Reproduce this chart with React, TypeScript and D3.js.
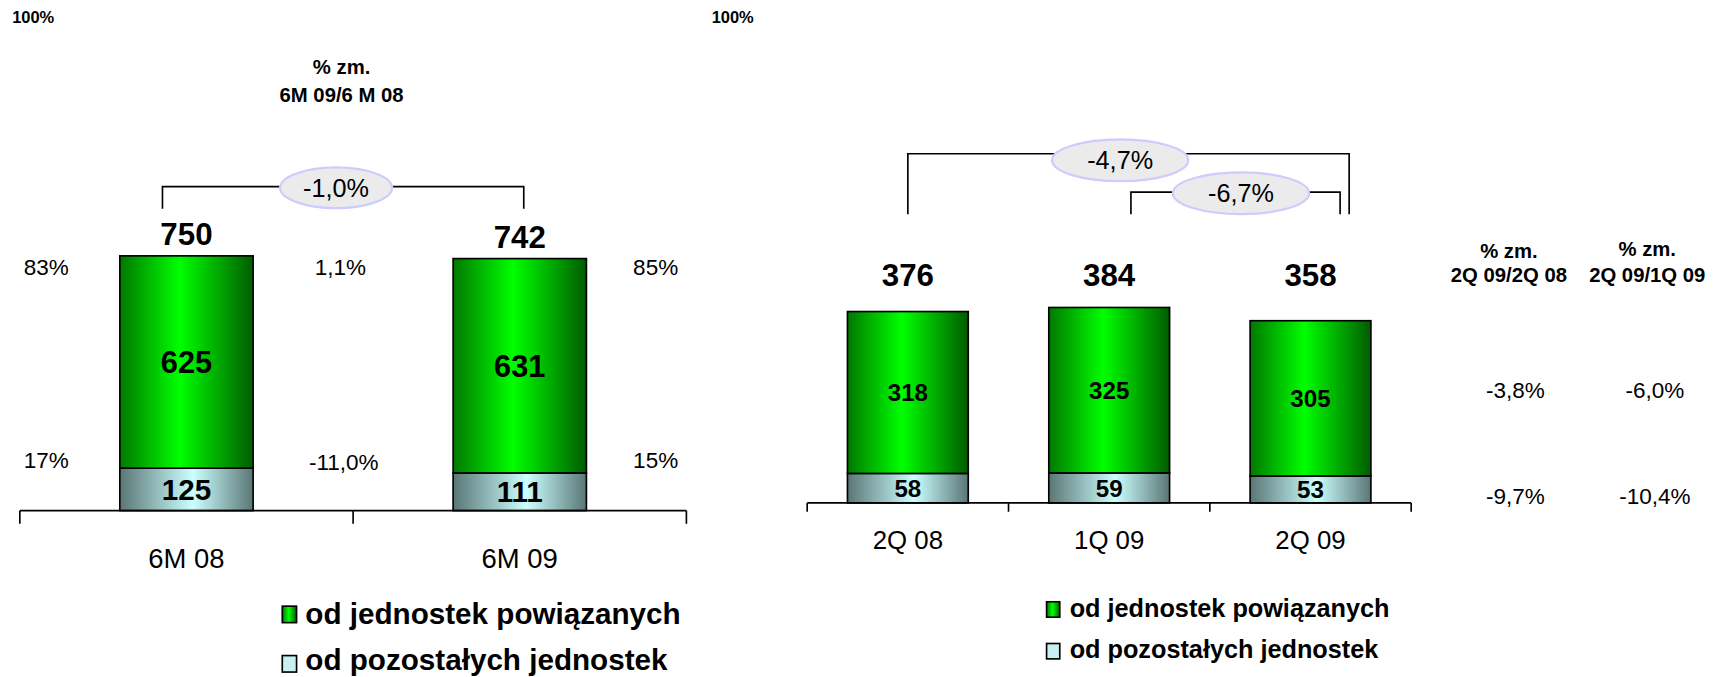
import * as React from 'react';
import * as d3 from 'd3';

// left panel: half-year
const leftCategories = ['6M 08', '6M 09'];
const leftRelated = [625, 631];
const leftOther = [125, 111];
const leftTotals = [750, 742];
const leftShareRelated = ['83%', '85%'];
const leftShareOther = ['17%', '15%'];
const leftChanges = ['1,1%', '-11,0%'];
const leftTotalChange = '-1,0%';

// right panel: quarters
const rightCategories = ['2Q 08', '1Q 09', '2Q 09'];
const rightRelated = [318, 325, 305];
const rightOther = [58, 59, 53];
const rightTotals = [376, 384, 358];
const rightYoY = ['-3,8%', '-9,7%'];
const rightQoQ = ['-6,0%', '-10,4%'];
const rightTotalChanges = ['-4,7%', '-6,7%'];

const legendLabels = ['od jednostek powiązanych', 'od pozostałych jednostek'];

const W = 1568;
const H = 616.5;
const FONT = '"Liberation Sans", Arial, sans-serif';

function Bubble({ cx, cy, rx, ry, label, size }: { cx: number; cy: number; rx: number; ry: number; label: string; size: number }) {
  return (
    <g>
      <ellipse cx={cx} cy={cy} rx={rx} ry={ry} fill="#ebebeb" stroke="#ccccff" strokeWidth={2} />
      <text x={cx} y={cy} dy="0.36em" textAnchor="middle" fontSize={size} fill="#000">{label}</text>
    </g>
  );
}

export default function App() {
  // left scales
  const xL = d3.scaleBand<string>().domain(leftCategories).range([18, 625]).paddingInner(0.6).paddingOuter(0.3);
  const yL = d3.scaleLinear().domain([0, d3.max(leftTotals) as number]).range([465, 233]);
  // right scales
  const xR = d3.scaleBand<string>().domain(rightCategories).range([735, 1285]).paddingInner(0.4).paddingOuter(0.2);
  const yR = d3.scaleLinear().domain([0, d3.max(rightTotals) as number]).range([458, 280]);

  const ticksOf = (x: d3.ScaleBand<string>) => {
    const [r0] = x.range();
    return d3.range(x.domain().length + 1).map(i => r0 + i * x.step());
  };

  const lb = xL.bandwidth();
  const rb = xR.bandwidth();
  const lx0 = xL(leftCategories[0]) as number;
  const lx1 = xL(leftCategories[1]) as number;
  const rx0 = xR(rightCategories[0]) as number;
  const rx1 = xR(rightCategories[1]) as number;
  const rx2 = xR(rightCategories[2]) as number;

  return (
    <svg width={1722} height={677} viewBox={`0 0 ${W} ${H}`} style={{ position: 'absolute', left: 0, top: 0, background: '#fff' }} fontFamily={FONT}>
      <defs>
        <linearGradient id="gGreen" x1="0" y1="0" x2="1" y2="0">
          <stop offset="0" stopColor="#007800" />
          <stop offset="0.45" stopColor="#00ff00" />
          <stop offset="1" stopColor="#005c00" />
        </linearGradient>
        <linearGradient id="gCyan" x1="0" y1="0" x2="1" y2="0">
          <stop offset="0" stopColor="#5a7676" />
          <stop offset="0.55" stopColor="#ccffff" />
          <stop offset="1" stopColor="#5a7676" />
        </linearGradient>
      </defs>

      {/* ---------- LEFT PANEL ---------- */}
      <text x={11} y={21} fontSize={15} fontWeight="bold">100%</text>
      <text x={311} y={67} textAnchor="middle" fontSize={18.5} fontWeight="bold">% zm.</text>
      <text x={311} y={93} textAnchor="middle" fontSize={18.5} fontWeight="bold">6M 09/6 M 08</text>

      <path d={`M${lx0 + lb * 0.32},190V170H${lx1 + lb * 0.53}V190`} fill="none" stroke="#000" strokeWidth={1.5} />
      <Bubble cx={306} cy={171} rx={51} ry={18.5} label={leftTotalChange} size={23} />

      {leftCategories.map((c, i) => {
        const x = xL(c) as number;
        return (
          <g key={c}>
            <rect x={x} y={yL(leftOther[i])} width={lb} height={yL(0) - yL(leftOther[i])} fill="url(#gCyan)" stroke="#000" strokeWidth={1.5} />
            <rect x={x} y={yL(leftTotals[i])} width={lb} height={yL(leftOther[i]) - yL(leftTotals[i])} fill="url(#gGreen)" stroke="#000" strokeWidth={1.5} />
            <text x={x + lb / 2} y={(yL(leftTotals[i]) + yL(leftOther[i])) / 2} dy="0.36em" textAnchor="middle" fontSize={28} fontWeight="bold">{leftRelated[i]}</text>
            <text x={x + lb / 2} y={(yL(leftOther[i]) + yL(0)) / 2} dy="0.36em" textAnchor="middle" fontSize={27} fontWeight="bold">{leftOther[i]}</text>
            <text x={x + lb / 2} y={yL(leftTotals[i]) - 10} textAnchor="middle" fontSize={28.5} fontWeight="bold">{leftTotals[i]}</text>
            <text x={x + lb / 2} y={517} textAnchor="middle" fontSize={25}>{c}</text>
          </g>
        );
      })}

      {/* share labels beside bars */}
      {[42, 597].map((px, i) => (
        <g key={px}>
          <text x={px} y={250} textAnchor="middle" fontSize={20.5}>{leftShareRelated[i]}</text>
          <text x={px} y={426} textAnchor="middle" fontSize={20.5}>{leftShareOther[i]}</text>
        </g>
      ))}
      <text x={310} y={250} textAnchor="middle" fontSize={20.5}>{leftChanges[0]}</text>
      <text x={313} y={428} textAnchor="middle" fontSize={20.5}>{leftChanges[1]}</text>

      <line x1={18} x2={625} y1={465} y2={465} stroke="#000" strokeWidth={1.5} />
      {ticksOf(xL).map(t => <line key={t} x1={t} x2={t} y1={465} y2={477} stroke="#000" strokeWidth={1.5} />)}

      {legendLabels.map((l, i) => (
        <g key={l}>
          <rect x={257} y={552 + i * 45} width={13} height={15} fill={i === 0 ? 'url(#gGreen)' : '#c8f0f0'} stroke="#000" strokeWidth={1.5} />
          <text x={278} y={568 + i * 42} fontSize={27} fontWeight="bold">{l}</text>
        </g>
      ))}

      {/* ---------- RIGHT PANEL ---------- */}
      <text x={648} y={21} fontSize={15} fontWeight="bold">100%</text>

      <path d={`M${rx0 + rb / 2},195V140H${rx2 + rb * 0.82}V195`} fill="none" stroke="#000" strokeWidth={1.5} />
      <path d={`M${rx1 + rb * 0.68},195V175H${rx2 + rb * 0.745}V195`} fill="none" stroke="#000" strokeWidth={1.5} />
      <Bubble cx={1020} cy={146} rx={62} ry={19} label={rightTotalChanges[0]} size={23} />
      <Bubble cx={1130} cy={176} rx={62} ry={19} label={rightTotalChanges[1]} size={23} />

      {rightCategories.map((c, i) => {
        const x = xR(c) as number;
        return (
          <g key={c}>
            <rect x={x} y={yR(rightOther[i])} width={rb} height={yR(0) - yR(rightOther[i])} fill="url(#gCyan)" stroke="#000" strokeWidth={1.5} />
            <rect x={x} y={yR(rightTotals[i])} width={rb} height={yR(rightOther[i]) - yR(rightTotals[i])} fill="url(#gGreen)" stroke="#000" strokeWidth={1.5} />
            <text x={x + rb / 2} y={(yR(rightTotals[i]) + yR(rightOther[i])) / 2} dy="0.36em" textAnchor="middle" fontSize={22} fontWeight="bold">{rightRelated[i]}</text>
            <text x={x + rb / 2} y={(yR(rightOther[i]) + yR(0)) / 2} dy="0.36em" textAnchor="middle" fontSize={22} fontWeight="bold">{rightOther[i]}</text>
            <text x={x + rb / 2} y={260} textAnchor="middle" fontSize={28.5} fontWeight="bold">{rightTotals[i]}</text>
            <text x={x + rb / 2} y={500} textAnchor="middle" fontSize={23.5}>{c}</text>
          </g>
        );
      })}

      <line x1={735} x2={1285} y1={458} y2={458} stroke="#000" strokeWidth={1.5} />
      {ticksOf(xR).map(t => <line key={t} x1={t} x2={t} y1={458} y2={466} stroke="#000" strokeWidth={1.5} />)}

      {/* change columns */}
      <text x={1374} y={235} textAnchor="middle" fontSize={18.5} fontWeight="bold">% zm.</text>
      <text x={1374} y={257} textAnchor="middle" fontSize={18.5} fontWeight="bold">2Q 09/2Q 08</text>
      <text x={1500} y={233} textAnchor="middle" fontSize={18.5} fontWeight="bold">% zm.</text>
      <text x={1500} y={257} textAnchor="middle" fontSize={18.5} fontWeight="bold">2Q 09/1Q 09</text>
      {rightYoY.map((v, i) => (
        <text key={'y' + i} x={1380} y={[362, 459][i]} textAnchor="middle" fontSize={20.5}>{v}</text>
      ))}
      {rightQoQ.map((v, i) => (
        <text key={'q' + i} x={1507} y={[362, 459][i]} textAnchor="middle" fontSize={20.5}>{v}</text>
      ))}

      {legendLabels.map((l, i) => (
        <g key={'r' + l}>
          <rect x={953} y={548 + i * 38} width={12} height={14} fill={i === 0 ? 'url(#gGreen)' : '#c8f0f0'} stroke="#000" strokeWidth={1.5} />
          <text x={974} y={562 + i * 37} fontSize={23} fontWeight="bold">{l}</text>
        </g>
      ))}
    </svg>
  );
}
